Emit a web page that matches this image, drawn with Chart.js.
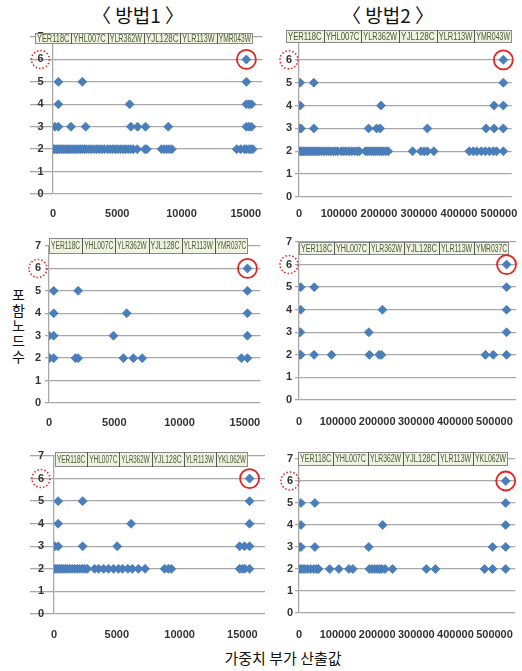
<!DOCTYPE html>
<html>
<head>
<meta charset="utf-8">
<script src="https://cdn.jsdelivr.net/npm/chart.js@4.4.1/dist/chart.umd.min.js"></script>
<style>
  html, body { margin: 0; padding: 0; background: #fff; }
  body { width: 522px; height: 671px; overflow: hidden; position: relative; font-family: "Noto Sans CJK KR", sans-serif; }
  canvas { position: absolute; }
  .t { position: absolute; color: #111; white-space: nowrap; text-align: center; }
  .yc { position: absolute; left: 11px; width: 15px; text-align: center; font-size: 14px; line-height: 14px; color: #111; }
</style>
</head>
<body>
<div class="t" style="left:58px;top:4px;width:160px;font-size:19px;line-height:22px;">〈 방법1 〉</div>
<div class="t" style="left:308px;top:4px;width:160px;font-size:19px;line-height:22px;">〈 방법2 〉</div>
<div class="yc" style="top:287px">포</div>
<div class="yc" style="top:303px">함</div>
<div class="yc" style="top:318px">노</div>
<div class="yc" style="top:333px">드</div>
<div class="yc" style="top:349px">수</div>
<div class="t" style="left:183px;top:648px;width:200px;font-size:15px;line-height:20px;">가중치 부가 산출값</div>

<script>
// gene names shown in the strip above each plot
const GENES_A = ['YER118C', 'YHL007C', 'YLR362W', 'YJL128C', 'YLR113W', 'YMR043W'];
const GENES_B = ['YER118C', 'YHL007C', 'YLR362W', 'YJL128C', 'YLR113W', 'YMR037C'];
const GENES_C = ['YER118C', 'YHL007C', 'YLR362W', 'YJL128C', 'YLR113W', 'YKL062W'];

// x tick labels
const X_TICKS_M1 = [0, 5000, 10000, 15000];
const X_TICKS_M2 = [0, 100000, 200000, 300000, 400000, 500000];

// x values of points, one array per node count (2..6)
// row 1, 방법1
const P1_N2 = [0, 120, 250, 380, 500, 650, 800, 950, 1100, 1250, 1400, 1550, 1700, 1850, 2000, 2150, 2300, 2450, 2600, 2800, 3000, 3200, 3400, 3600, 3800, 4000, 4250, 4450, 4650, 4850, 5050, 5250, 5450, 5650, 5850, 6050, 6250, 6550, 7150, 7300, 8450, 8650, 8850, 9050, 9250, 14300, 14600, 14900, 15050, 15250, 15400, 15550];
const P1_N3 = [150, 420, 1400, 2540, 6060, 6580, 7200, 8970, 15050, 15250, 15450];
const P1_N4 = [420, 5960, 15050, 15250, 15450];
const P1_N5 = [420, 2280, 15050];
const P1_N6 = [15050];
// row 1, 방법2
const P2_N2 = [0, 4000, 8000, 12000, 16000, 20000, 25000, 30000, 35000, 40000, 45000, 50000, 56000, 62000, 68000, 74000, 80000, 86000, 92000, 97000, 106000, 112000, 118000, 125000, 132000, 139000, 146000, 151000, 166000, 171000, 176000, 181000, 186000, 191000, 196000, 201000, 206000, 211000, 217000, 223000, 284000, 305000, 313000, 321000, 337000, 426000, 436000, 445000, 456000, 466000, 476000, 486000, 494000, 511000];
const P2_N3 = [0, 5000, 37000, 174000, 194000, 203000, 321000, 468000, 488000, 511000];
const P2_N4 = [3000, 205000, 488000, 511000];
const P2_N5 = [3000, 37000, 511000];
const P2_N6 = [511000];
// row 2, 방법1
const P3_N2 = [50, 360, 2030, 2230, 5700, 6460, 7140, 14740, 15200];
const P3_N3 = [0, 360, 4940, 15200];
const P3_N4 = [360, 5950, 15200];
const P3_N5 = [360, 2230, 15200];
const P3_N6 = [15200];
// row 2, 방법2
const P4_N2 = [0, 4300, 38500, 83300, 180000, 205000, 211000, 477000, 497000, 531000];
const P4_N3 = [0, 3500, 178600, 531000];
const P4_N4 = [4300, 213500, 531000];
const P4_N5 = [4300, 39000, 531000];
const P4_N6 = [531000];
// row 3, 방법1
const P5_N2 = [0, 150, 300, 450, 600, 750, 900, 1050, 1250, 1450, 1650, 1850, 2050, 2250, 2450, 2650, 3230, 3550, 3950, 4340, 4740, 5130, 5450, 5880, 6240, 6720, 7250, 8800, 9100, 9350, 14780, 15000, 15200, 15570];
const P5_N3 = [60, 330, 2280, 5030, 14780, 15170, 15570];
const P5_N4 = [330, 6140, 15570];
const P5_N5 = [330, 2280, 15570];
const P5_N6 = [15570];
// row 3, 방법2
const P6_N2 = [0, 5000, 10000, 15000, 22000, 30000, 38000, 45000, 50000, 78700, 102000, 127700, 137800, 180000, 187000, 194000, 200000, 206000, 212000, 220000, 239000, 325600, 349000, 474600, 495000, 528700];
const P6_N3 = [0, 5000, 40600, 178400, 495000, 528700];
const P6_N4 = [5000, 214000, 528700];
const P6_N5 = [5000, 40600, 528700];
const P6_N6 = [528700];

const BLUE = '#4a7ebb';
const RED = '#e3231d';
const GRID = '#a8a8a8';
const TICK_FONT = { family: '"Liberation Sans Narrow", "Liberation Sans", Arial, sans-serif', size: 11, weight: 'bold' };

function toPoints(rows) {
  const pts = [];
  rows.forEach((xs, i) => xs.forEach(x => pts.push({ x: x, y: i + 2 })));
  return pts;
}

const panels = [
  { rows: [P1_N2, P1_N3, P1_N4, P1_N5, P1_N6], genes: GENES_A, xTicks: X_TICKS_M1, plotL: 53, plotR: 263, y7: 37, y0: 194, xMax: 16300, tick: 23, yPad: -13.5, xPad: 13, box: [35, 33, 253, 44] },
  { rows: [P2_N2, P2_N3, P2_N4, P2_N5, P2_N6], genes: GENES_A, xTicks: X_TICKS_M2, plotL: 299, plotR: 516, y7: 37, y0: 197, xMax: 532000, tick: 4, yPad: 3, xPad: 10, box: [286, 30, 512, 43] },
  { rows: [P3_N2, P3_N3, P3_N4, P3_N5, P3_N6], genes: GENES_B, xTicks: X_TICKS_M1, plotL: 49, plotR: 262, y7: 246, y0: 403, xMax: 16200, tick: 4, yPad: 4, xPad: 13, box: [49, 238, 248, 254] },
  { rows: [P4_N2, P4_N3, P4_N4, P4_N5, P4_N6], genes: GENES_B, xTicks: X_TICKS_M2, plotL: 299, plotR: 517, y7: 242, y0: 400, xMax: 556000, tick: 4, yPad: 3, xPad: 15, box: [299, 242, 509, 255] },
  { rows: [P5_N2, P5_N3, P5_N4, P5_N5, P5_N6], genes: GENES_C, xTicks: X_TICKS_M1, plotL: 54, plotR: 265, y7: 456, y0: 614, xMax: 16800, tick: 24, yPad: -14, xPad: 14, box: [55, 452, 248, 467] },
  { rows: [P6_N2, P6_N3, P6_N4, P6_N5, P6_N6], genes: GENES_C, xTicks: X_TICKS_M2, plotL: 299, plotR: 517, y7: 459, y0: 613, xMax: 553000, tick: 4, yPad: 2, xPad: 15, box: [298, 452, 508, 466] }
];

function overlay(p, left, top) {
  return {
    id: 'overlay',
    afterDraw(chart) {
      const ctx = chart.ctx;
      const xs = chart.scales.x, ys = chart.scales.y;
      // gene strip
      const bx = p.box[0] - left, by = p.box[1] - top;
      const bw = p.box[2] - p.box[0], bh = p.box[3] - p.box[1];
      const cw = bw / p.genes.length;
      ctx.save();
      ctx.fillStyle = '#eef3df';
      ctx.fillRect(bx, by, bw, bh);
      ctx.strokeStyle = '#8a8a8a';
      ctx.lineWidth = 1;
      ctx.strokeRect(bx + 0.5, by + 0.5, bw - 1, bh - 1);
      ctx.strokeStyle = '#555';
      ctx.font = '10px "Liberation Sans", Arial, sans-serif';
      ctx.fillStyle = '#4b5a3a';
      ctx.textBaseline = 'middle';
      p.genes.forEach((g, i) => {
        const cx = bx + i * cw;
        if (i > 0) {
          ctx.beginPath();
          ctx.moveTo(Math.round(cx) + 0.5, by);
          ctx.lineTo(Math.round(cx) + 0.5, by + bh);
          ctx.stroke();
        }
        const tw = ctx.measureText(g).width;
        const sx = Math.min(1, (cw - 4) / tw);
        ctx.save();
        ctx.translate(cx + 2, by + bh / 2 + 0.5);
        ctx.scale(sx, 1);
        ctx.fillText(g, 0, 0);
        ctx.restore();
      });
      // dotted circle round the "6" label
      ctx.font = 'bold 11px ' + TICK_FONT.family;
      const lw = ctx.measureText('6').width;
      const lx = chart.chartArea.left - p.tick - p.yPad - lw / 2;
      const y6 = ys.getPixelForValue(6);
      ctx.strokeStyle = RED;
      ctx.lineWidth = 1.5;
      ctx.setLineDash([1.5, 2]);
      ctx.beginPath();
      ctx.arc(lx, y6, 9, 0, Math.PI * 2);
      ctx.stroke();
      // solid circle round the 6-node point
      ctx.setLineDash([]);
      ctx.lineWidth = 1.8;
      ctx.beginPath();
      ctx.arc(xs.getPixelForValue(p.rows[4][0]), y6, 9.5, 0, Math.PI * 2);
      ctx.stroke();
      ctx.restore();
    }
  };
}

panels.forEach(p => {
  const left = p.plotL - 50, top = p.y7 - 12;
  const w = p.plotR + 12 - left, h = p.y0 + 32 - top;
  const cv = document.createElement('canvas');
  cv.width = w; cv.height = h;
  cv.style.left = left + 'px'; cv.style.top = top + 'px';
  cv.style.width = w + 'px'; cv.style.height = h + 'px';
  document.body.appendChild(cv);

  new Chart(cv, {
    type: 'scatter',
    data: {
      datasets: [{
        data: toPoints(p.rows),
        pointStyle: 'rectRot',
        pointRadius: 4.5,
        backgroundColor: BLUE,
        borderColor: BLUE,
        borderWidth: 0.8
      }]
    },
    options: {
      responsive: false,
      animation: false,
      devicePixelRatio: 1,
      layout: { padding: { top: 12, right: 12, left: 0, bottom: 0 } },
      plugins: { legend: { display: false }, tooltip: { enabled: false } },
      scales: {
        x: {
          type: 'linear', min: 0, max: p.xMax,
          afterFit: s => { s.height = 32; },
          afterBuildTicks: s => { s.ticks = p.xTicks.map(v => ({ value: v })); },
          grid: { display: false, drawTicks: false },
          border: { display: false },
          ticks: { autoSkip: false, maxRotation: 0, padding: p.xPad, font: TICK_FONT, color: '#333', callback: v => String(v) }
        },
        y: {
          min: 0, max: 7,
          afterFit: s => { s.width = 50; },
          grid: { color: GRID, lineWidth: 1.3, tickLength: p.tick, tickColor: GRID },
          border: { color: GRID, width: 1.3 },
          ticks: { stepSize: 1, padding: p.yPad, font: TICK_FONT, color: '#333' }
        }
      }
    },
    plugins: [overlay(p, left, top)]
  });
});
</script>
</body>
</html>
